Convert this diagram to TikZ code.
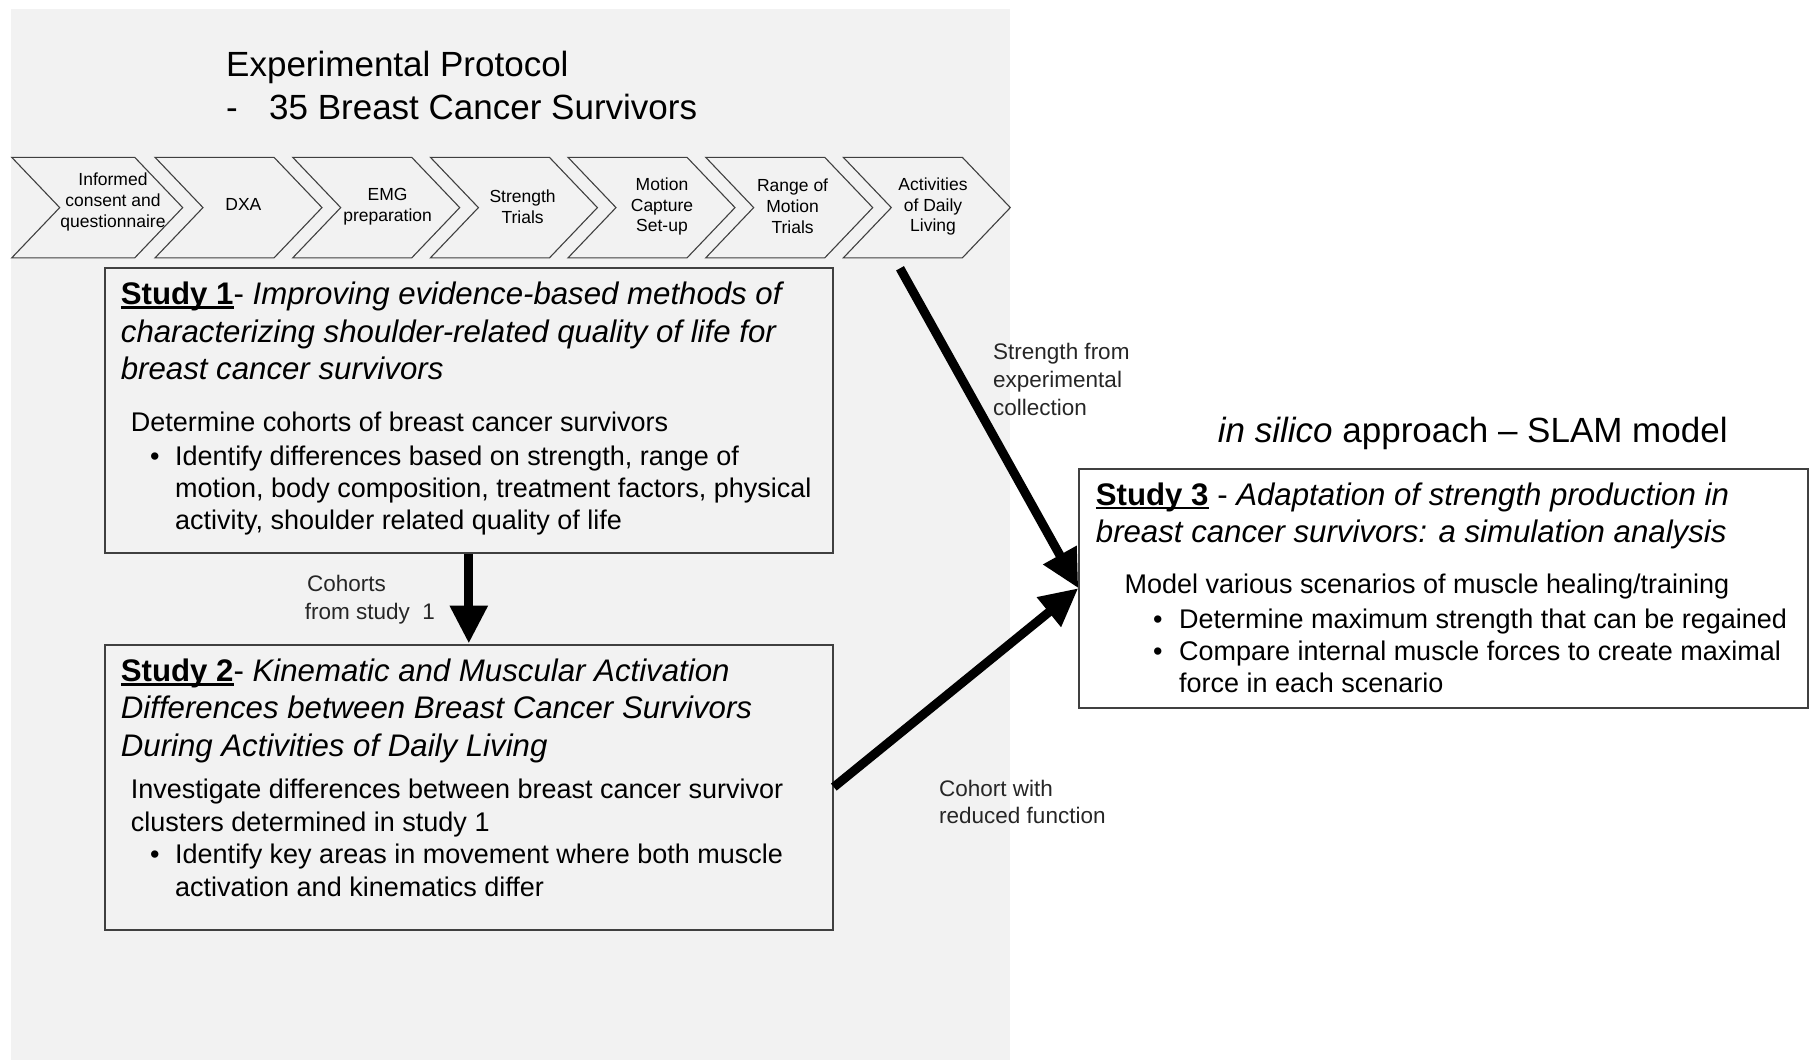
\documentclass[tikz,border=0pt]{standalone}
\usepackage{fontspec}
\setmainfont{Liberation Sans}
\usetikzlibrary{arrows.meta}
\definecolor{bgc}{RGB}{242,242,242}
\definecolor{edge}{RGB}{64,64,64}
\definecolor{lab}{RGB}{38,38,38}
\newcommand\ulx[1]{\setbox0=\hbox{#1}\rlap{\rule[-0.13em]{\wd0}{0.07em}}\box0}
\newcommand\chevron[6]{%
  \draw[chev] (#2,157.3) -- ++(#3-48,0) -- ++(48,50.3) -- ++(-48,50.3) -- ++(48-#3,0) -- ++(48,-50.3) -- cycle;
  \node[ctext] (#1) at (#4,#5) {#6};}
\begin{document}
\begin{tikzpicture}[x=1pt,y=-1pt,
  chev/.style={fill=bgc, draw=edge, line width=1.1pt, line join=miter},
  ctext/.style={inner sep=0, align=center, font=\fontsize{17.5}{20.8}\selectfont},
  studybox/.style={draw=edge, line width=2pt, fill=bgc, inner sep=0, anchor=north west},
  txt/.style={inner sep=0, anchor=base west},
  head/.style={txt, font=\fontsize{31.2}{37}\selectfont},
  body/.style={txt, font=\fontsize{27}{32}\selectfont},
  big/.style={txt, font=\fontsize{35}{42}\selectfont},
  lbl/.style={txt, text=lab, font=\fontsize{22.5}{27}\selectfont},
  bigarrow/.style={line width=9pt, -{Triangle[length=38pt,width=36pt]}},
]
\useasboundingbox (0,0) rectangle (1809,1060);
\fill[bgc] (10.5,9) rectangle (1010,1060);

% title
\node[big] (t1) at (226,76.5) {Experimental Protocol};
\node[big] (t2a) at (226,119) {-};
\node[big] (t2b) at (269,119) {35 Breast Cancer Survivors};

% chevrons
\chevron{c1}{11.7}{171}{113}{202}{Informed\\consent and\\questionnaire}
\chevron{c2}{155}{167}{243.4}{204}{DXA}
\chevron{c3}{292.7}{167}{387.6}{206.6}{EMG\\preparation}
\chevron{c4}{430.4}{167}{522.6}{206.5}{Strength\\Trials}
\chevron{c5}{568}{167}{662}{206.5}{Motion\\Capture\\Set-up}
\chevron{c6}{705.7}{167}{792.6}{206.5}{Range of\\Motion\\Trials}
\chevron{c7}{843.3}{167}{933}{206.5}{Activities\\of Daily\\Living}

% boxes
\node[studybox, minimum width=728pt, minimum height=285.5pt] (s1) at (103.8,266.5) {};
\node[studybox, minimum width=728pt, minimum height=285.2pt] (s2) at (103.8,643.5) {};
\node[studybox, fill=white, minimum width=728.4pt, minimum height=239pt] (s3) at (1078.3,467.7) {};

% study 1 text
\node[head] (s1h1) at (120.7,304.5) {\ulx{\textbf{Study 1}}- \textit{Improving evidence-based methods of}};
\node[head] (s1h2) at (120.7,342) {\textit{characterizing shoulder-related quality of life for}};
\node[head] (s1h3) at (120.7,379.5) {\textit{breast cancer survivors}};
\node[body] (s1b1) at (130.7,431) {Determine cohorts of breast cancer survivors};
\node[body] (s1d1) at (150,465) {•};
\node[body] (s1b2) at (175,465) {Identify differences based on strength, range of};
\node[body] (s1b3) at (175,497) {motion, body composition, treatment factors, physical};
\node[body] (s1b4) at (175,529) {activity, shoulder related quality of life};

% study 2 text
\node[head] (s2h1) at (120.7,681.5) {\ulx{\textbf{Study 2}}- \textit{Kinematic and Muscular Activation}};
\node[head] (s2h2) at (120.7,718.5) {\textit{Differences between Breast Cancer Survivors}};
\node[head] (s2h3) at (120.7,756.5) {\textit{During Activities of Daily Living}};
\node[body] (s2b1) at (130.7,798) {Investigate differences between breast cancer survivor};
\node[body] (s2b2) at (130.7,831) {clusters determined in study 1};
\node[body] (s2d1) at (150,863.5) {•};
\node[body] (s2b3) at (175,863.5) {Identify key areas in movement where both muscle};
\node[body] (s2b4) at (175,896) {activation and kinematics differ};

% study 3 text
\node[big] (ins) at (1217.7,442.5) {\textit{in silico} approach -- SLAM model};
\node[head] (s3h1) at (1095.7,505) {\ulx{\textbf{Study 3}}\ - \textit{Adaptation of strength production in}};
\node[head] (s3h2) at (1095.7,542) {\textit{breast cancer survivors: a simulation analysis}};
\node[body] (s3b1) at (1124.3,593) {Model various scenarios of muscle healing/training};
\node[body] (s3d1) at (1153,628) {•};
\node[body] (s3b2) at (1179,628) {Determine maximum strength that can be regained};
\node[body] (s3d2) at (1153,660) {•};
\node[body] (s3b3) at (1179,660) {Compare internal muscle forces to create maximal};
\node[body] (s3b4) at (1179,692) {force in each scenario};

% labels
\node[lbl] (l1a) at (993,359) {Strength from};
\node[lbl] (l1b) at (993,387.6) {experimental};
\node[lbl] (l1c) at (993,415.3) {collection};
\node[lbl] (l2a) at (307,591.7) {Cohorts};
\node[lbl] (l2b) at (304.6,619) {from study \ 1};
\node[lbl] (l3a) at (939,796) {Cohort with};
\node[lbl] (l3b) at (939,823.7) {reduced function};

% arrows
\coordinate (a1) at (900,268.3);
\draw[bigarrow] (a1) -- (s3.west);
\draw[bigarrow] (s2.east) -- (s3.west);
\draw[bigarrow] (s1.south) -- (s2.north);
\end{tikzpicture}
\end{document}
